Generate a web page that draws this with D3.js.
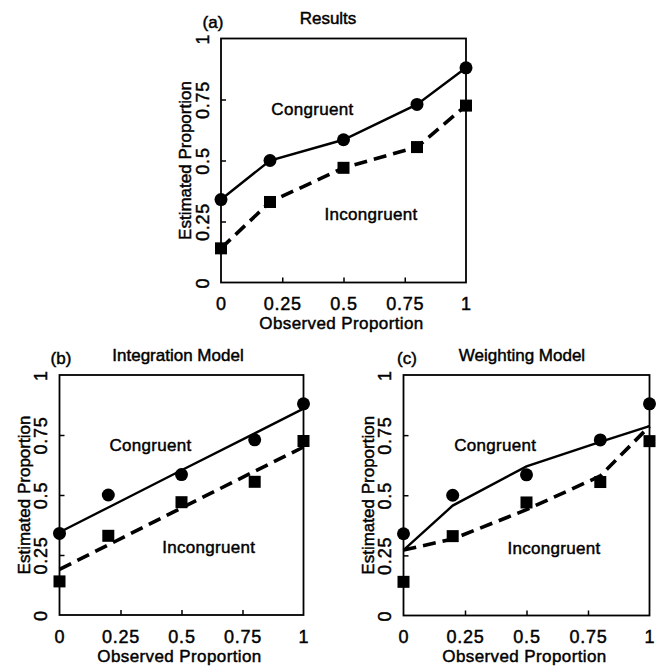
<!DOCTYPE html>
<html lang="en">
<head>
<meta charset="utf-8">
<title>Congruent / Incongruent estimates</title>
<script src="https://cdn.jsdelivr.net/npm/d3@7"></script>
<style>
  body { margin: 0; background: #fff; }
  svg text { font-family: "Liberation Sans", Arial, sans-serif; font-size: 17px; fill: #000; stroke: #000; stroke-width: 0.45px; }
  svg .tick text { font-size: 18px; }
</style>
</head>
<body>
<div id="chart"></div>
<script>
// observed proportions (x) shared by all panels
var observed = [0, 0.2, 0.5, 0.8, 1];

// results (markers)
var congruentObs = [0.34, 0.50, 0.585, 0.73, 0.88];
var incongruentObs = [0.14, 0.33, 0.47, 0.555, 0.725];

// model predictions (lines)
var integrationCong = [0.345, 0.448, 0.603, 0.757, 0.86];
var integrationIncong = [0.19, 0.292, 0.446, 0.599, 0.70];
var weightingCong = [0.272, 0.457, 0.62, 0.722, 0.787];
var weightingIncong = [0.272, 0.318, 0.44, 0.58, 0.787];

var tickValues = [0, 0.25, 0.5, 0.75, 1];
var tickLabels = ["0", "0.25", "0.5", "0.75", "1"];

// panel layout
var panels = [
  {tag: "(a)", title: "Results", left: 221, right: 466, top: 38.5, bottom: 282.5, titleX: 328, tagX: 213,
   lineCong: congruentObs, lineIncong: incongruentObs},
  {tag: "(b)", title: "Integration Model", left: 59.5, right: 303.5, top: 375, bottom: 615, titleX: 178, tagX: 61,
   lineCong: integrationCong, lineIncong: integrationIncong},
  {tag: "(c)", title: "Weighting Model", left: 403.5, right: 649.5, top: 375, bottom: 615.5, titleX: 522, tagX: 407,
   lineCong: weightingCong, lineIncong: weightingIncong}
];

var svg = d3.select("#chart").append("svg")
  .attr("width", 659)
  .attr("height", 667);

panels.forEach(function(p) {
  var x = d3.scaleLinear().domain([0, 1]).range([p.left, p.right]);
  var y = d3.scaleLinear().domain([0, 1]).range([p.bottom, p.top]);
  var g = svg.append("g");

  // frame
  g.append("rect")
    .attr("x", x(0)).attr("y", y(1))
    .attr("width", x(1) - x(0)).attr("height", y(0) - y(1))
    .attr("fill", "none").attr("stroke", "#000").attr("stroke-width", 1.8);

  // x axis (inward ticks)
  var xa = g.append("g")
    .attr("transform", "translate(0," + y(0) + ")")
    .call(d3.axisBottom(x).tickValues(tickValues).tickSize(-5).tickPadding(15)
      .tickFormat(function(d, i) { return tickLabels[i]; }));
  xa.select(".domain").remove();
  xa.selectAll(".tick line").attr("stroke-width", 1.5)
    .filter(function(d) { return d === 0 || d === 1; }).remove();
  xa.selectAll(".tick text").attr("font-family", null).attr("font-size", null)
    .attr("fill", null).style("letter-spacing", "0.8px");

  // y axis (inward ticks, rotated labels)
  var ya = g.append("g")
    .attr("transform", "translate(" + x(0) + ",0)")
    .call(d3.axisLeft(y).tickValues(tickValues).tickSize(-5)
      .tickFormat(function(d, i) { return tickLabels[i]; }));
  ya.select(".domain").remove();
  ya.selectAll(".tick line").attr("stroke-width", 1.5)
    .filter(function(d) { return d === 0 || d === 1; }).remove();
  ya.selectAll(".tick text").attr("font-family", null).attr("font-size", null).attr("fill", null)
    .attr("transform", "rotate(-90)")
    .attr("x", 0).attr("y", -12.5).attr("dy", null)
    .attr("text-anchor", "middle")
    .style("letter-spacing", "0.8px");

  // axis titles
  g.append("text")
    .attr("x", (p.left + p.right) / 2 - 2)
    .attr("y", p.bottom + 46.5)
    .attr("text-anchor", "middle")
    .style("letter-spacing", "0.4px")
    .text("Observed Proportion");
  g.append("text")
    .attr("transform", "translate(" + (p.left - 30) + "," + (p.top + p.bottom) / 2 + ") rotate(-90)")
    .attr("text-anchor", "middle")
    .text("Estimated Proportion");

  // panel title and tag
  g.append("text").attr("x", p.titleX).attr("y", p.top - 14.5)
    .attr("text-anchor", "middle").text(p.title);
  g.append("text").attr("x", p.tagX).attr("y", p.top - 11)
    .attr("text-anchor", "middle").text(p.tag);

  // lines
  var line = d3.line()
    .x(function(d, i) { return x(observed[i]); })
    .y(function(d) { return y(d); });
  g.append("path").datum(p.lineCong)
    .attr("d", line).attr("fill", "none").attr("stroke", "#000").attr("stroke-width", 2.4);
  g.append("path").datum(p.lineIncong)
    .attr("d", line).attr("fill", "none").attr("stroke", "#000").attr("stroke-width", 3.6)
    .attr("stroke-dasharray", "13,7");

  // observed markers
  g.selectAll("circle.cong").data(congruentObs).enter().append("circle")
    .attr("class", "cong")
    .attr("cx", function(d, i) { return x(observed[i]); })
    .attr("cy", function(d) { return y(d); })
    .attr("r", 6.5).attr("fill", "#000");
  g.selectAll("rect.incong").data(incongruentObs).enter().append("rect")
    .attr("class", "incong")
    .attr("x", function(d, i) { return x(observed[i]) - 6; })
    .attr("y", function(d) { return y(d) - 6; })
    .attr("width", 12).attr("height", 12).attr("fill", "#000");

  // curve labels
  g.append("text").attr("x", x(0.373)).attr("y", y(0.685))
    .attr("text-anchor", "middle").style("letter-spacing", "0.3px").text("Congruent");
  g.append("text").attr("x", x(0.612)).attr("y", y(0.257))
    .attr("text-anchor", "middle").style("letter-spacing", "0.3px").text("Incongruent");
});
</script>
</body>
</html>
